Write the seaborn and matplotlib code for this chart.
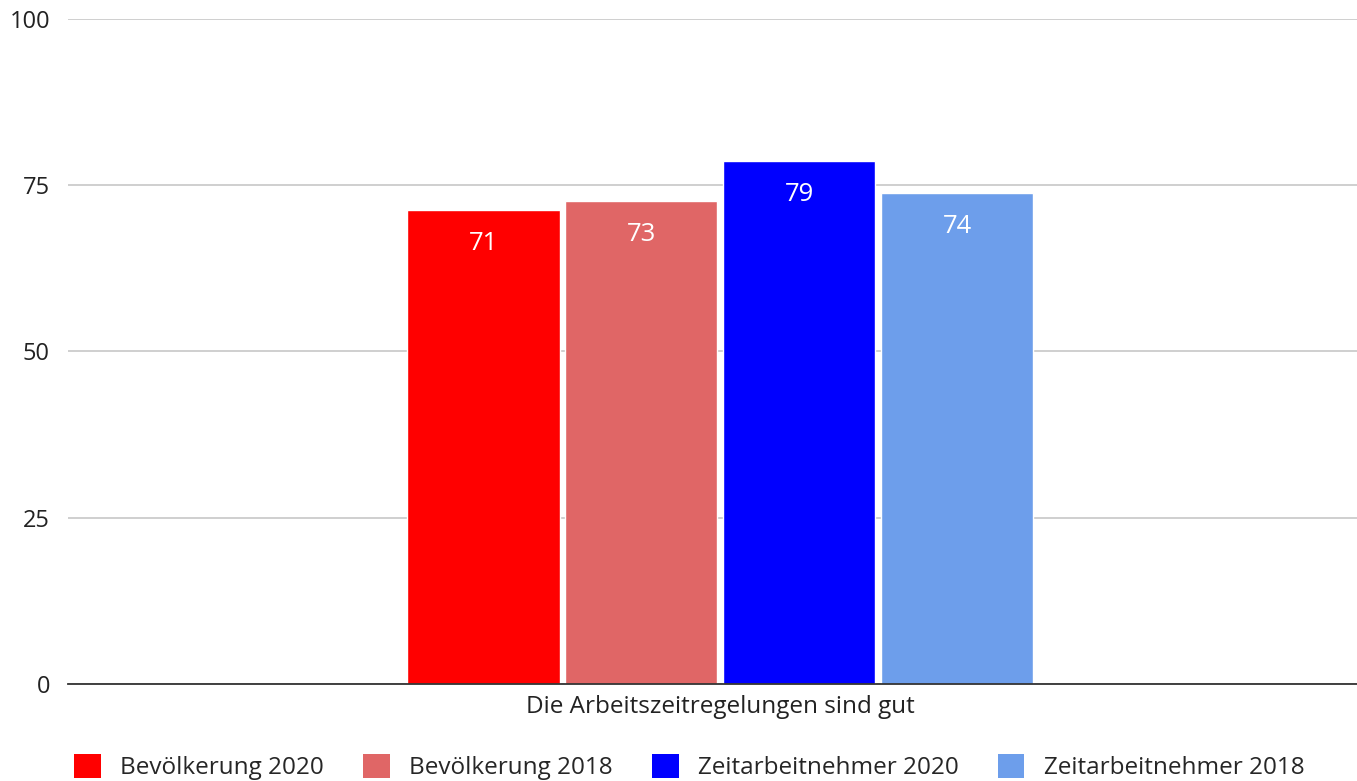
import matplotlib
matplotlib.use("Agg")
import matplotlib.pyplot as plt
import pandas as pd
import seaborn as sns
from matplotlib.patches import Patch

# data
kategorie = "Die Arbeitszeitregelungen sind gut"
gruppen = ["Bevölkerung 2020", "Bevölkerung 2018", "Zeitarbeitnehmer 2020", "Zeitarbeitnehmer 2018"]
werte = [71.2, 72.6, 78.6, 73.8]
farben = ["#ff0000", "#e06666", "#0000ff", "#6d9eeb"]
y_ticks = [0, 25, 50, 75, 100]

df = pd.DataFrame({"frage": [kategorie] * len(gruppen), "gruppe": gruppen, "wert": werte})

sns.set_theme(style="white")
plt.rcParams["font.family"] = ["Open Sans", "DejaVu Sans"]

fig = plt.figure(figsize=(13.57, 7.81), dpi=100)
ax = fig.add_axes([68 / 1357, 1 - 684 / 781, 1 - 68 / 1357, (684 - 18.7) / 781])

sns.barplot(data=df, x="frage", y="wert", hue="gruppe", hue_order=gruppen,
            palette=dict(zip(gruppen, farben)), width=0.490, gap=0.035,
            saturation=1, legend=False, ax=ax)

for cont in ax.containers:
    ax.bar_label(cont, fmt="%.0f", padding=-33, color="white", fontsize=18.5)

ax.set_xlim(-0.506, 0.494)
ax.set_ylim(0, 100)
ax.set_yticks(y_ticks)
ax.tick_params(axis="y", length=0, labelsize=17, pad=13, colors="#222222")
ax.tick_params(axis="x", length=0, labelsize=17.5, pad=8, colors="#222222")
ax.grid(axis="y", color="#cccccc", linewidth=1.3)
ax.set_axisbelow(True)
ax.set_xlabel("")
ax.set_ylabel("")
for s in ["left", "right", "top"]:
    ax.spines[s].set_visible(False)
ax.spines["bottom"].set_color("#333333")
ax.spines["bottom"].set_linewidth(1.3)
ax.spines["bottom"].set_zorder(5)

handles = [Patch(facecolor=c, edgecolor="none") for c in farben]
fig.legend(handles, gruppen, loc="lower center", bbox_to_anchor=(0.508, -0.027), ncol=4,
           frameon=False, fontsize=17.5, handlelength=1.1, handleheight=1.1,
           handletextpad=0.8, columnspacing=1.6)

fig.savefig("out.png", dpi=100)
